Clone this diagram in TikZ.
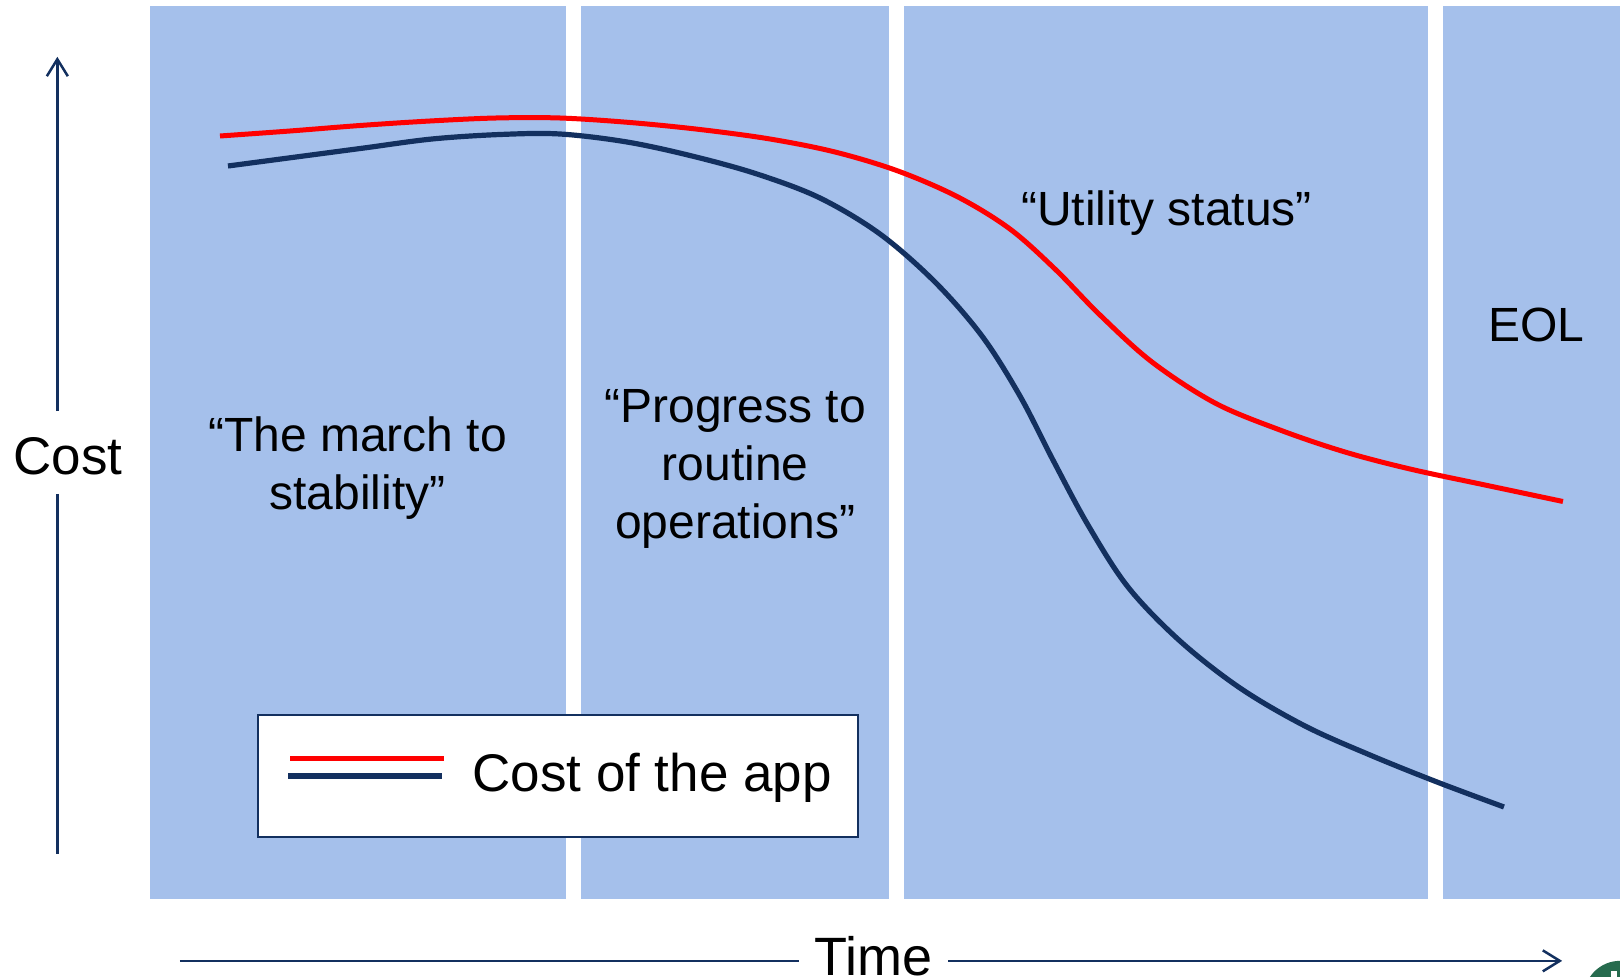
\documentclass[tikz,border=0pt]{standalone}
\usepackage{fontspec}
\setmainfont{Liberation Sans}
\usetikzlibrary{arrows.meta}
\definecolor{panelblue}{HTML}{A5C0EB}
\definecolor{navy}{HTML}{13305F}
\definecolor{seal}{HTML}{266B4E}
\tikzset{
  panel/.style={fill=panelblue,draw=none},
  axisline/.style={navy,line width=2.5pt},
  axistip/.style={-{Straight Barb[length=17pt,width=21pt,line width=2.5pt]}},
  redcurve/.style={red,line width=5pt},
  navycurve/.style={navy,line width=5.2pt},
  biglabel/.style={font=\fontsize{53}{58}\selectfont,inner sep=0pt,align=center},
  label/.style={font=\fontsize{48}{58}\selectfont,inner sep=0pt,align=center,text=black},
}
\begin{document}
\begin{tikzpicture}[x=1.0332pt,y=-1.0332pt]
\useasboundingbox (0,0) rectangle (1568,945.6);
\fill[white] (0,0) rectangle (1568,945.6);
\fill[panel] (145,6) rectangle (548,870);
\fill[panel] (562,6) rectangle (860,870);
\fill[panel] (875,6) rectangle (1382,870);
\fill[panel] (1397,6) rectangle (1568,870);
\begin{scope}[x=1pt,y=-1pt]
\draw[redcurve,smooth,tension=0.55] plot coordinates {(220,136)(290,131)(360,125.5)(430,121)(496,118)(560,118)(630,122.5)(700,129.5)(770,139)(835,152)(898,171)(958,197)(1010,229)(1055,269)(1100,315)(1152,362)(1215,403)(1280,430)(1345,452)(1410,469)(1485,485)(1563,501.5)};
\draw[navycurve,smooth,tension=0.55] plot coordinates {(228,166)(296,157)(364,148)(432,139)(500,134.5)(560,134)(627,142)(692,156)(757,174)(820,198)(880,234)(935,282)(982,336)(1020,396)(1053,460)(1088,525)(1128,587)(1180,641)(1240,688)(1305,726)(1370,755)(1437,782)(1504,807)};
\end{scope}
\node[label] (march) at (346,453) {“The march to\\stability”};
\node[label] (progress) at (711.5,454) {“Progress to\\routine\\operations”};
\node[label] (utility) at (1129,206) {“Utility status”};
\node[label] (eol) at (1487,315) {EOL};
\node[draw=navy,line width=2pt,fill=white,minimum width=600pt,minimum height=122pt,inner sep=0pt] (legend) at (540.5,751) {};
\node[biglabel,anchor=west] (legendtext) at (457,753) {Cost of the app};
\coordinate (ra) at (281,734);
\coordinate (rb) at (430,734);
\coordinate (na) at (279,751);
\coordinate (nb) at (428,751);
\draw[redcurve] (ra) -- (rb);
\draw[navycurve] (na) -- (nb);
\node[biglabel] (cost) at (66,442) {Cost};
\node[biglabel,font=\fontsize{54}{58}\selectfont,anchor=base] (time) at (845.5,943.8) {Time};
\coordinate (costtop) at (55.5,55);
\coordinate (costbottom) at (55.5,827);
\coordinate (costup) at (55.5,398);
\coordinate (costdown) at (55.5,478);
\coordinate (timeleft) at (174,930);
\coordinate (timeright) at (1512,930);
\coordinate (timea) at (773,930);
\coordinate (timeb) at (918,930);
\draw[axisline,axistip] (costup) -- (costtop);
\draw[axisline] (costdown) -- (costbottom);
\draw[axisline] (timeleft) -- (timea);
\draw[axisline,axistip] (timeb) -- (timeright);
\begin{scope}
\clip (0,0) rectangle (1568,945.6);
\fill[seal] (1568,965) circle (35);
\fill[white] (1559,940) rectangle (1565,946);
\end{scope}
\end{tikzpicture}
\end{document}
